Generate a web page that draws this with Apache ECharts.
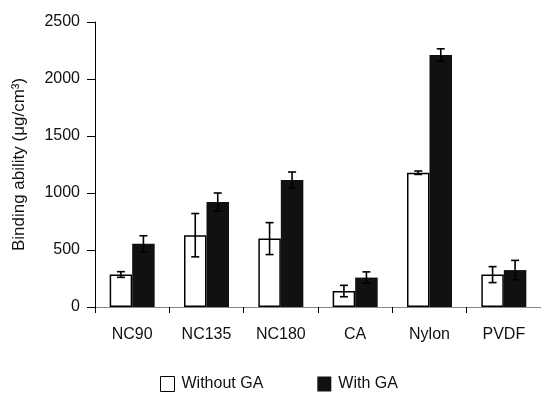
<!DOCTYPE html>
<html>
<head>
<meta charset="utf-8">
<script src="https://cdn.jsdelivr.net/npm/echarts@6/dist/echarts.min.js"></script>
<style>
  html, body { margin: 0; padding: 0; background: #fff; }
  #main { width: 541px; height: 393px; }
</style>
</head>
<body>
<div id="main"></div>
<script>
var categories = ['NC90', 'NC135', 'NC180', 'CA', 'Nylon', 'PVDF'];
var withoutGA = [285, 630, 600, 140, 1178, 284];
var withoutGAErr = [25, 190, 140, 50, 15, 70];
var withGA = [555, 920, 1114, 258, 2210, 324];
var withGAErr = [70, 80, 70, 50, 55, 85];

var barW = 22.5;
var font = 'Liberation Sans';

function errData(vals, errs) {
    return vals.map(function (v, i) { return [i, v - errs[i], v + errs[i]]; });
}

function errRender(shift) {
    return function (params, api) {
        var lo = api.coord([api.value(0), api.value(1)]);
        var hi = api.coord([api.value(0), api.value(2)]);
        var x = lo[0] + shift;
        var cap = 4;
        var st = { stroke: '#000', lineWidth: 1.6 };
        return {
            type: 'group',
            children: [
                { type: 'line', shape: { x1: x, y1: lo[1], x2: x, y2: hi[1] }, style: st },
                { type: 'line', shape: { x1: x - cap, y1: lo[1], x2: x + cap, y2: lo[1] }, style: st },
                { type: 'line', shape: { x1: x - cap, y1: hi[1], x2: x + cap, y2: hi[1] }, style: st }
            ]
        };
    };
}

var chart = echarts.init(document.getElementById('main'));
chart.setOption({
    animation: false,
    backgroundColor: '#fff',
    textStyle: { fontFamily: font },
    grid: { left: 95, top: 22, width: 459, height: 285 },
    legend: {
        top: 371,
        left: 155,
        icon: 'rect',
        itemWidth: 14,
        itemHeight: 15,
        itemGap: 54,
        textStyle: { fontFamily: font, fontSize: 16, color: '#111', padding: [0, 0, 0, 2] },
        data: [
            { name: 'Without GA', itemStyle: { color: '#fff', borderColor: '#000', borderWidth: 1 } },
            { name: 'With GA', itemStyle: { color: '#111' } }
        ]
    },
    xAxis: {
        type: 'category',
        data: categories,
        axisLine: { lineStyle: { color: '#888', width: 1 } },
        axisTick: { show: true, length: 6, lineStyle: { color: '#000' } },
        axisLabel: { fontSize: 16, color: '#111', margin: 20, fontFamily: font }
    },
    yAxis: {
        type: 'value',
        min: 0,
        max: 2500,
        interval: 500,
        name: 'Binding ability (μg/cm³)',
        nameLocation: 'middle',
        nameGap: 67,
        nameTextStyle: { fontSize: 17, color: '#111', fontFamily: font },
        splitLine: { show: false },
        axisLine: { show: true, lineStyle: { color: '#000', width: 1 } },
        axisTick: { show: true, length: 8, lineStyle: { color: '#000' } },
        axisLabel: {
            fontSize: 16, color: '#111', margin: 15, fontFamily: font,
            formatter: function (v) { return String(v); }
        }
    },
    series: [
        {
            name: 'Without GA',
            type: 'bar',
            data: withoutGA,
            barWidth: barW,
            barGap: '0%',
            itemStyle: { color: '#fff', borderColor: '#000', borderWidth: 1.5 }
        },
        {
            name: 'With GA',
            type: 'bar',
            data: withGA,
            barWidth: barW,
            barGap: '0%',
            itemStyle: { color: '#111' }
        },
        {
            type: 'custom',
            renderItem: errRender(-barW / 2),
            data: errData(withoutGA, withoutGAErr),
            z: 5
        },
        {
            type: 'custom',
            renderItem: errRender(barW / 2),
            data: errData(withGA, withGAErr),
            z: 5
        }
    ]
});
</script>
</body>
</html>
